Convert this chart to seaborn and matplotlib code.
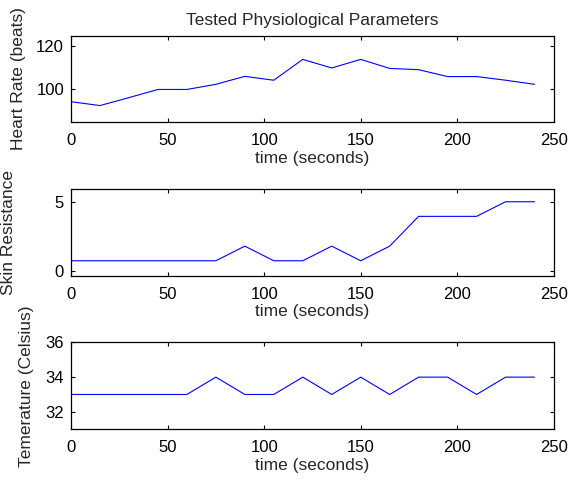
import seaborn as sns
import matplotlib.pyplot as plt
import pandas as pd

# time axis, every 15 s
time_s = [0, 15, 30, 45, 60, 75, 90, 105, 120, 135, 150, 165, 180, 195, 210, 225, 240]
heart_rate = [94.3, 92.5, 96.2, 100, 100, 102.4, 106.1, 104.3, 114, 110, 114, 109.8, 109.2, 106, 106, 104.3, 102.4]
skin_res = [0.72, 0.72, 0.72, 0.72, 0.72, 0.72, 1.78, 0.72, 0.72, 1.78, 0.72, 1.78, 3.94, 3.94, 3.94, 5.0, 5.0]
temperature = [33, 33, 33, 33, 33, 34, 33, 33, 34, 33, 34, 33, 34, 34, 33, 34, 34]

ylabels = ['Heart Rate (beats)', 'Skin Resistance', 'Temerature (Celsius)']
ylims = [(85, 125), (-0.35, 5.95), (31, 36)]
yticks = [[100, 120], [0, 5], [32, 34, 36]]
label_x = [-0.093, -0.114, -0.077]

df = pd.DataFrame({'time': time_s, 'hr': heart_rate, 'skin': skin_res, 'temp': temperature})

sns.set_style('white')
plt.rcParams['font.family'] = ['Liberation Sans', 'DejaVu Sans']

fig = plt.figure(figsize=(5.71, 4.8), dpi=100)
boxes = [(0.1243, 0.7465, 0.8457, 0.179),
         (0.1243, 0.426, 0.8457, 0.181),
         (0.1243, 0.106, 0.8457, 0.1805)]

for i, col in enumerate(['hr', 'skin', 'temp']):
    ax = fig.add_axes(boxes[i])
    sns.lineplot(data=df, x='time', y=col, ax=ax, color='blue', linewidth=0.8)
    ax.set_xlim(0, 250)
    ax.set_xticks([0, 50, 100, 150, 200, 250])
    ax.set_ylim(*ylims[i])
    ax.set_yticks(yticks[i])
    ax.set_xlabel('time (seconds)', fontsize=12.5, labelpad=2)
    ax.set_ylabel(ylabels[i], fontsize=12.5)
    ax.yaxis.set_label_coords(label_x[i], 0.5)
    ax.tick_params(direction='in', length=3, width=0.8, top=True, right=True,
                   bottom=True, left=True, labelsize=12, colors='black', pad=5)
    ax.tick_params(axis='x', pad=8)
    for s in ax.spines.values():
        s.set_color('black')
        s.set_linewidth(0.9)
    if i == 0:
        ax.set_title('Tested Physiological Parameters', fontsize=12.5, pad=8)

fig.savefig('out.png', dpi=100)
